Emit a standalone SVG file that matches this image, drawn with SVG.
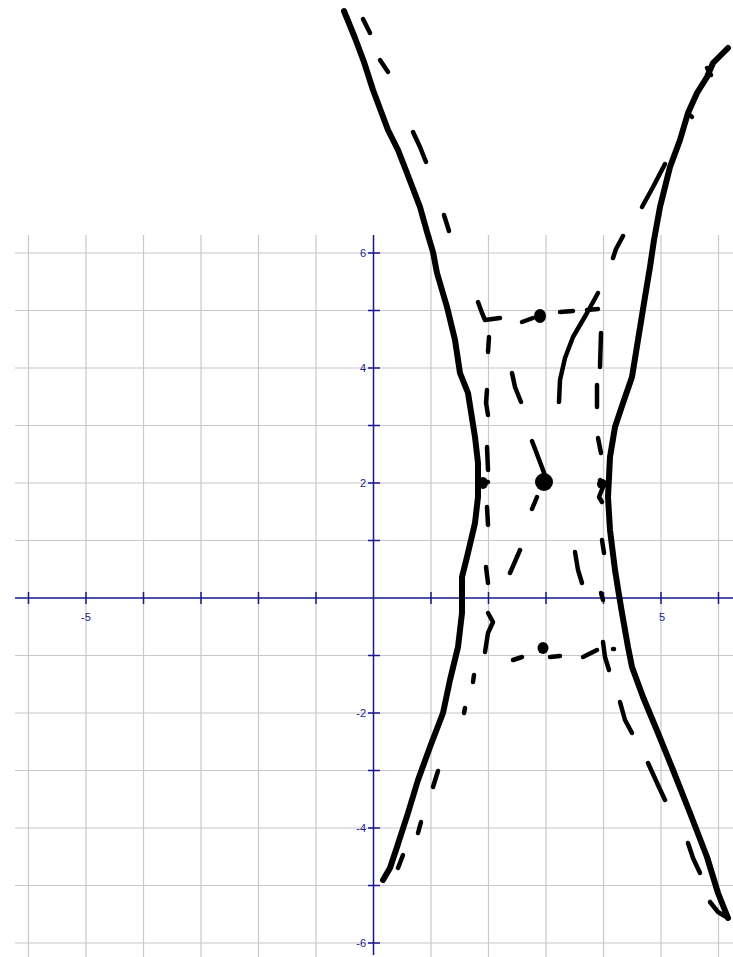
<svg xmlns="http://www.w3.org/2000/svg" width="733" height="957" viewBox="0 0 733 957">
<style>
.grid{stroke:#c8c8c8;stroke-width:1.2;fill:none}
.axis{stroke:#1a1a8c;stroke-width:1.5;fill:none}
.lbl{font-family:"Liberation Sans",Arial,sans-serif;font-size:11px;fill:#1a1a8c}
.thick{stroke:#000;stroke-width:6;fill:none;stroke-linecap:round;stroke-linejoin:round}
.dash{stroke:#000;stroke-width:4.5;fill:none;stroke-linecap:round;stroke-linejoin:round}
</style>
<rect width="733" height="957" fill="#fff"/>
<g id="grid" class="grid">
<path d="M28.5 235V957M86 235V957M143.5 235V957M201 235V957M258.5 235V957M316 235V957M431 235V957M488.5 235V957M546 235V957M603.5 235V957M661 235V957M718.5 235V957"/>
<path d="M15 253H733M15 310.5H733M15 368H733M15 425.5H733M15 483H733M15 540.5H733M15 655.5H733M15 713H733M15 770.5H733M15 828H733M15 885.5H733M15 943H733"/>
</g>
<g id="axes" class="axis">
<path d="M15 598H733M373.5 235V955"/>
<path d="M28.5 592V604M86 592V604M143.5 592V604M201 592V604M258.5 592V604M316 592V604M431 592V604M488.5 592V604M546 592V604M603.5 592V604M661 592V604M718.5 592V604"/>
<path d="M368 253H380M368 310.5H380M368 368H380M368 425.5H380M368 483H380M368 540.5H380M368 655.5H380M368 713H380M368 770.5H380M368 828H380M368 885.5H380M368 943H380"/>
</g>
<g id="labels" class="lbl">
<text x="366" y="257" text-anchor="end">6</text>
<text x="366" y="372" text-anchor="end">4</text>
<text x="366" y="487" text-anchor="end">2</text>
<text x="366" y="717" text-anchor="end">-2</text>
<text x="366" y="832" text-anchor="end">-4</text>
<text x="366" y="947" text-anchor="end">-6</text>
<text x="86" y="621" text-anchor="middle">-5</text>
<text x="662" y="621" text-anchor="middle">5</text>
</g>
<g id="left-branch" class="thick">
<path d="M344 11L355 38L364 62L373 90L388 130L398 150L407 173L420 207L427 232L433 252L437 273L447 307L455 340L460 373L468 393L475 437L478 463L478 497L475 523L467 557L462 577L462 613L458 647L450 680L443 713L430 747L418 780L408 813L397 847L390 868L383 880"/>
</g>
<g id="right-branch" class="thick">
<path d="M728 48L713 63L707 77L697 93L688 113L680 140L670 167L660 207L654 240L650 267L645 297L638 340L632 377L623 403L615 427L610 457L608 497L610 530L615 570L619 595L622 613L628 647L632 667L643 697L658 733L673 770L690 813L707 857L718 893L724 908L728 918"/>
</g>
<g id="dashes" class="dash">
<path d="M363 19L370 33"/>
<path d="M380 60L388 72"/>
<path d="M413 132L420 147L426 162"/>
<path d="M444 215L449 231"/>
<path d="M665 164L653 187L642 207"/>
<path d="M623 236L616 249L613 258"/>
<path d="M707 68L711 75M688 113L692 117"/>
<path d="M478 302L482 313L485 320L500 318"/>
<path d="M522 322L533 318"/>
<path d="M560 312L573 311"/>
<path d="M587 310L598 309"/>
<path d="M598 293L587 313L573 337L565 358L560 380L559 402"/>
<path d="M489 337L488 352"/>
<path d="M487 390L486 403L488 415"/>
<path d="M512 373L515 387L521 402"/>
<path d="M601 333L600 367"/>
<path d="M597 385L597 407"/>
<path d="M598 438L601 453"/>
<path d="M487 447L488 470"/>
<path d="M480 483L488 482"/>
<path d="M532 441L543 470L547 482"/>
<path d="M537 497L532 509"/>
<path d="M600 480L603 487L599 497L602 502"/>
<path d="M487 507L488 525"/>
<path d="M520 550L510 573"/>
<path d="M486 567L488 583"/>
<path d="M575 552L578 570L582 583"/>
<path d="M602 540L604 553"/>
<path d="M601 593L603 600"/>
<path d="M488 613L493 622L488 633L485 652"/>
<path d="M513 660L522 657"/>
<path d="M550 657L560 656"/>
<path d="M583 657L597 650"/>
<path d="M603 642L605 657L609 670"/>
<path d="M613 649L614 649"/>
<path d="M474 675L473 682"/>
<path d="M465 708L464 713"/>
<path d="M438 771L433 787"/>
<path d="M421 822L418 833"/>
<path d="M403 855L398 868"/>
<path d="M620 702L625 720L632 733"/>
<path d="M648 763L658 785L665 800"/>
<path d="M688 843L693 858L700 873"/>
<path d="M710 902L718 912L728 918"/>
</g>
<g id="dots" fill="#000">
<ellipse cx="540" cy="316" rx="6" ry="7"/>
<ellipse cx="544" cy="482" rx="9" ry="9"/>
<ellipse cx="543" cy="648" rx="5.5" ry="6"/>
<ellipse cx="483" cy="483" rx="5" ry="6"/>
<ellipse cx="602" cy="484" rx="5" ry="5"/>
</g>
</svg>
